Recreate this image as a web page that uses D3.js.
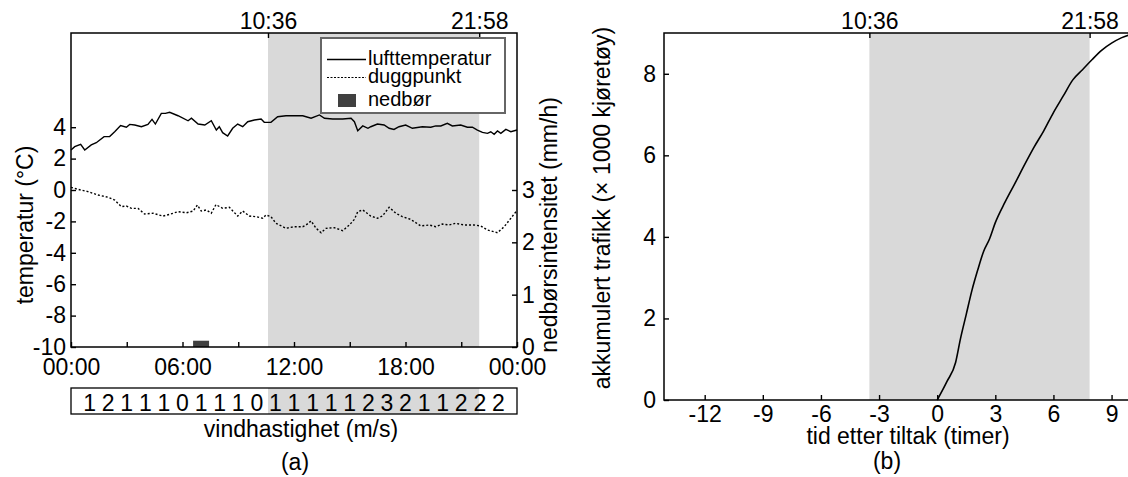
<!DOCTYPE html>
<html>
<head>
<meta charset="utf-8">
<script src="https://cdn.jsdelivr.net/npm/d3@7"></script>
<style>
  body { margin: 0; background: #fff; }
  svg { display: block; font-family: "Liberation Sans", Arial, sans-serif; }
</style>
</head>
<body>
<div id="wrapper"></div>
<script>
// hours since 00:00, temperature in °C
const airTemp = [
  [0, 2.55], [0.2, 2.76], [0.52, 2.91], [0.74, 2.55], [1.09, 2.87], [1.36, 3.01],
  [1.78, 3.4], [2.08, 3.4], [2.35, 3.71], [2.67, 4.1], [2.98, 4.0], [3.16, 4.18],
  [3.43, 4.14], [3.79, 4.03], [4.14, 4.18], [4.36, 4.5], [4.54, 4.2], [4.86, 4.88],
  [5.08, 4.88], [5.31, 4.95], [5.76, 4.73], [6.3, 4.41], [6.48, 4.57], [6.84, 4.2],
  [7.2, 4.14], [7.55, 4.41], [7.82, 3.82], [7.98, 4.03], [8.16, 3.65], [8.43, 3.44],
  [8.7, 3.93], [8.97, 4.2], [9.24, 4.03], [9.51, 4.35], [9.87, 4.46], [10.23, 4.52],
  [10.4, 4.31], [10.76, 4.31], [11.12, 4.67], [11.57, 4.73], [12.02, 4.73], [12.47, 4.73],
  [12.92, 4.57], [13.37, 4.78], [13.64, 4.57], [14.08, 4.52], [14.62, 4.52], [15.07, 4.57],
  [15.25, 4.35], [15.43, 3.78], [15.7, 4.08], [15.98, 3.93], [16.13, 4.03], [16.49, 4.2],
  [16.85, 4.14], [17.12, 3.93], [17.38, 3.86], [17.65, 4.03], [18.01, 4.14], [18.37, 3.93],
  [18.91, 4.03], [19.36, 4.0], [19.63, 4.08], [19.9, 4.08], [20.25, 4.25], [20.52, 4.08],
  [20.97, 4.14], [21.33, 4.0], [21.6, 4.0], [21.87, 3.82], [22.14, 3.67], [22.41, 3.61],
  [22.59, 3.71], [22.77, 3.55], [22.95, 3.76], [23.13, 3.61], [23.4, 3.86], [23.67, 3.71],
  [24, 3.82]
]

const dewPoint = [
  [0, 0.17], [0.38, 0.04], [0.91, -0.1], [1.45, -0.32], [1.99, -0.46], [2.35, -0.64],
  [2.71, -1.06], [2.98, -1.02], [3.25, -1.17], [3.61, -1.17], [3.96, -1.53], [4.41, -1.48],
  [4.95, -1.66], [5.31, -1.55], [5.76, -1.38], [6.21, -1.45], [6.57, -1.34], [6.8, -0.96],
  [7.01, -1.34], [7.28, -1.27], [7.55, -1.48], [7.8, -0.93], [8.16, -1.17], [8.52, -1.1],
  [8.97, -1.66], [9.24, -1.34], [9.6, -1.66], [9.96, -1.7], [10.32, -1.8], [10.49, -1.59],
  [10.76, -1.7], [11.03, -2.12], [11.57, -2.44], [12.02, -2.34], [12.47, -2.34], [12.65, -2.23],
  [12.92, -1.97], [13.19, -2.44], [13.46, -2.72], [13.72, -2.44], [14.17, -2.4], [14.62, -2.59],
  [14.98, -2.23], [15.25, -1.87], [15.43, -1.38], [15.7, -1.27], [16.13, -1.66], [16.49, -1.8],
  [16.76, -1.66], [17.12, -1.1], [17.48, -1.48], [17.83, -1.7], [18.28, -1.87], [18.82, -2.29],
  [19.27, -2.23], [19.63, -2.34], [19.98, -2.17], [20.34, -2.23], [20.7, -2.12], [21.15, -2.23],
  [21.69, -2.23], [22.05, -2.29], [22.41, -2.55], [22.95, -2.72], [23.31, -2.34], [23.67, -1.8],
  [24, -1.3]
]

// precipitation intensity (mm/h) per interval
const rain = [{ start: 6.57, end: 7.43, value: 0.12 }]

// wind speed (m/s), read at the full hours 01..23
const windSpeed = [1, 2, 1, 1, 1, 0, 1, 1, 1, 0, 1, 1, 1, 1, 1, 2, 3, 2, 1, 1, 2, 2, 2]

// measure period 10:36 - 21:58
const shadeStart = 10 + 36 / 60
const shadeEnd = 21 + 58 / 60
const shadeLabels = ["10:36", "21:58"]

const hourTicks = [0, 3, 6, 9, 12, 15, 18, 21, 24]
const hourLabels = { 0: "00:00", 6: "06:00", 12: "12:00", 18: "18:00", 24: "00:00" }
const tempTicks = [-10, -8, -6, -4, -2, 0, 2, 4]
const rainTicks = [0, 1, 2, 3]

// panel (b): hours after measure vs cumulative traffic (x 1000 vehicles)
const trafficHours = [0, 0.5, 0.95, 1.2, 1.5, 1.8, 2.1, 2.4, 2.7, 3, 3.5, 4, 4.6, 5, 5.5, 6, 6.5, 7, 7.5, 8, 8.5, 9, 9.5, 9.9]
const trafficValues = [0, 0.45, 0.92, 1.5, 2.1, 2.7, 3.2, 3.65, 3.95, 4.35, 4.85, 5.3, 5.85, 6.2, 6.6, 7.05, 7.45, 7.85, 8.1, 8.35, 8.58, 8.75, 8.88, 8.95]
const relTicks = [-12, -9, -6, -3, 0, 3, 6, 9]
const trafficTicks = [0, 2, 4, 6, 8]
const measureHour = 14.1 // 0 on panel (b) corresponds to 14:06

const width = 1128
const height = 477
const fontSize = 23
const shadeColor = "#d9d9d9"

const svg = d3.select("#wrapper")
  .append("svg")
  .attr("width", width)
  .attr("height", height)
  .style("font-size", fontSize + "px")

// ---------- panel (a) ----------
const a = { left: 71, right: 517, top: 33, bottom: 347 }

const xA = d3.scaleLinear().domain([0, 24]).range([a.left, a.right])
const yTemp = d3.scaleLinear().domain([-10, 10]).range([a.bottom, a.top])
const yRain = d3.scaleLinear().domain([0, 6]).range([a.bottom, a.top])

svg.append("rect")
  .attr("x", xA(shadeStart))
  .attr("y", a.top)
  .attr("width", xA(shadeEnd) - xA(shadeStart))
  .attr("height", a.bottom - a.top)
  .attr("fill", shadeColor)

svg.selectAll("rect.rain")
  .data(rain)
  .join("rect")
  .attr("class", "rain")
  .attr("x", d => xA(d.start))
  .attr("width", d => xA(d.end) - xA(d.start))
  .attr("y", d => yRain(d.value))
  .attr("height", d => yRain(0) - yRain(d.value))
  .attr("fill", "#404040")

const lineA = d3.line()
  .x(d => xA(d[0]))
  .y(d => yTemp(d[1]))

svg.append("path")
  .attr("d", lineA(airTemp))
  .attr("fill", "none")
  .attr("stroke", "#000")
  .attr("stroke-width", 1.4)

svg.append("path")
  .attr("d", lineA(dewPoint))
  .attr("fill", "none")
  .attr("stroke", "#000")
  .attr("stroke-width", 1.4)
  .attr("stroke-dasharray", "2,2")

// axes, ticks pointing inwards
function styleAxis(g) {
  g.select(".domain").remove()
  g.selectAll(".tick line").attr("stroke", "#000").attr("stroke-width", 1.4)
  g.selectAll(".tick text").attr("fill", "#000").style("font-size", fontSize + "px")
    .style("font-family", "\"Liberation Sans\", Arial, sans-serif")
}

svg.append("g")
  .attr("transform", `translate(0,${a.bottom})`)
  .call(d3.axisBottom(xA).tickValues(hourTicks)
    .tickFormat(d => hourLabels[d] || "")
    .tickSizeInner(-5).tickSizeOuter(0).tickPadding(12))
  .call(styleAxis)

svg.append("g")
  .attr("transform", `translate(0,${a.top})`)
  .call(d3.axisTop(xA).tickValues([shadeStart, shadeEnd])
    .tickFormat((d, i) => shadeLabels[i])
    .tickSizeInner(-5).tickSizeOuter(0).tickPadding(4))
  .call(styleAxis)

svg.append("g")
  .attr("transform", `translate(${a.left},0)`)
  .call(d3.axisLeft(yTemp).tickValues(tempTicks)
    .tickFormat(d => String(d))
    .tickSizeInner(-5).tickSizeOuter(0).tickPadding(5))
  .call(styleAxis)

svg.append("g")
  .attr("transform", `translate(${a.right},0)`)
  .call(d3.axisRight(yRain).tickValues(rainTicks)
    .tickFormat(d => String(d))
    .tickSizeInner(-5).tickSizeOuter(0).tickPadding(5))
  .call(styleAxis)

svg.append("rect")
  .attr("x", a.left)
  .attr("y", a.top)
  .attr("width", a.right - a.left)
  .attr("height", a.bottom - a.top)
  .attr("fill", "none")
  .attr("stroke", "#000")
  .attr("stroke-width", 1.5)

// legend
const legend = svg.append("g").attr("transform", "translate(321,38)")
legend.append("rect")
  .attr("width", 184).attr("height", 75)
  .attr("fill", "#fff").attr("stroke", "#666").attr("stroke-width", 2)
const legendItems = ["lufttemperatur", "duggpunkt", "nedbør"]
const legendRows = [21.5, 39.5, 62]
legendItems.forEach((label, i) => {
  const yy = legendRows[i]
  if (i < 2) {
    legend.append("line")
      .attr("x1", 6).attr("x2", 45).attr("y1", yy).attr("y2", yy)
      .attr("stroke", "#000").attr("stroke-width", i === 0 ? 1.4 : 1.2)
      .attr("stroke-dasharray", i === 0 ? null : "2,1.5")
  } else {
    legend.append("rect")
      .attr("x", 17).attr("y", yy - 6).attr("width", 18).attr("height", 13)
      .attr("fill", "#404040")
  }
  legend.append("text")
    .attr("x", 47).attr("y", yy + 5.5)
    .style("font-size", "20px")
    .text(label)
})

// axis titles
svg.append("text")
  .attr("transform", "translate(33,225) rotate(-90)")
  .attr("text-anchor", "middle")
  .text("temperatur (°C)")

svg.append("text")
  .attr("transform", "translate(557,225) rotate(-90)")
  .attr("text-anchor", "middle")
  .text("nedbørsintensitet (mm/h)")

// wind speed strip
const strip = { top: 388, bottom: 414 }
svg.append("rect")
  .attr("x", xA(shadeStart))
  .attr("y", strip.top)
  .attr("width", xA(shadeEnd) - xA(shadeStart))
  .attr("height", strip.bottom - strip.top)
  .attr("fill", shadeColor)
svg.append("rect")
  .attr("x", a.left)
  .attr("y", strip.top)
  .attr("width", a.right - a.left)
  .attr("height", strip.bottom - strip.top)
  .attr("fill", "none")
  .attr("stroke", "#000")
  .attr("stroke-width", 1.3)
svg.selectAll("text.wind")
  .data(windSpeed)
  .join("text")
  .attr("class", "wind")
  .attr("x", (d, i) => xA(i + 1))
  .attr("y", strip.bottom - 3)
  .attr("text-anchor", "middle")
  .style("font-size", "23px")
  .text(d => d)

svg.append("text")
  .attr("x", 301)
  .attr("y", 437)
  .attr("text-anchor", "middle")
  .text("vindhastighet (m/s)")

svg.append("text")
  .attr("x", 295)
  .attr("y", 470)
  .attr("text-anchor", "middle")
  .text("(a)")

// ---------- panel (b) ----------
const b = { left: 664, right: 1129, top: 33, bottom: 400 }

const xB = d3.scaleLinear().domain([-measureHour, 24 - measureHour]).range([b.left, b.right])
const yB = d3.scaleLinear().domain([0, 9]).range([b.bottom, b.top])

svg.append("rect")
  .attr("x", xB(shadeStart - measureHour))
  .attr("y", b.top)
  .attr("width", xB(shadeEnd - measureHour) - xB(shadeStart - measureHour))
  .attr("height", b.bottom - b.top)
  .attr("fill", shadeColor)

const lineB = d3.line()
  .x(d => xB(d[0]))
  .y(d => yB(d[1]))
  .curve(d3.curveMonotoneX)

svg.append("path")
  .attr("d", lineB(d3.zip(trafficHours, trafficValues)))
  .attr("fill", "none")
  .attr("stroke", "#000")
  .attr("stroke-width", 1.6)

svg.append("g")
  .attr("transform", `translate(0,${b.bottom})`)
  .call(d3.axisBottom(xB).tickValues(relTicks)
    .tickFormat(d => String(d))
    .tickSizeInner(-5).tickSizeOuter(0).tickPadding(6))
  .call(styleAxis)

svg.append("g")
  .attr("transform", `translate(0,${b.top})`)
  .call(d3.axisTop(xB).tickValues([shadeStart - measureHour, shadeEnd - measureHour])
    .tickFormat((d, i) => shadeLabels[i])
    .tickSizeInner(-5).tickSizeOuter(0).tickPadding(4))
  .call(styleAxis)

svg.append("g")
  .attr("transform", `translate(${b.left},0)`)
  .call(d3.axisLeft(yB).tickValues(trafficTicks)
    .tickFormat(d => String(d))
    .tickSizeInner(-5).tickSizeOuter(0).tickPadding(8))
  .call(styleAxis)

svg.append("rect")
  .attr("x", b.left)
  .attr("y", b.top)
  .attr("width", b.right - b.left)
  .attr("height", b.bottom - b.top)
  .attr("fill", "none")
  .attr("stroke", "#000")
  .attr("stroke-width", 1.5)

svg.append("text")
  .attr("transform", "translate(610,208) rotate(-90)")
  .attr("text-anchor", "middle")
  .text("akkumulert trafikk (× 1000 kjøretøy)")

svg.append("text")
  .attr("x", 908)
  .attr("y", 444)
  .attr("text-anchor", "middle")
  .text("tid etter tiltak (timer)")

svg.append("text")
  .attr("x", 887)
  .attr("y", 469)
  .attr("text-anchor", "middle")
  .text("(b)")
</script>
</body>
</html>
